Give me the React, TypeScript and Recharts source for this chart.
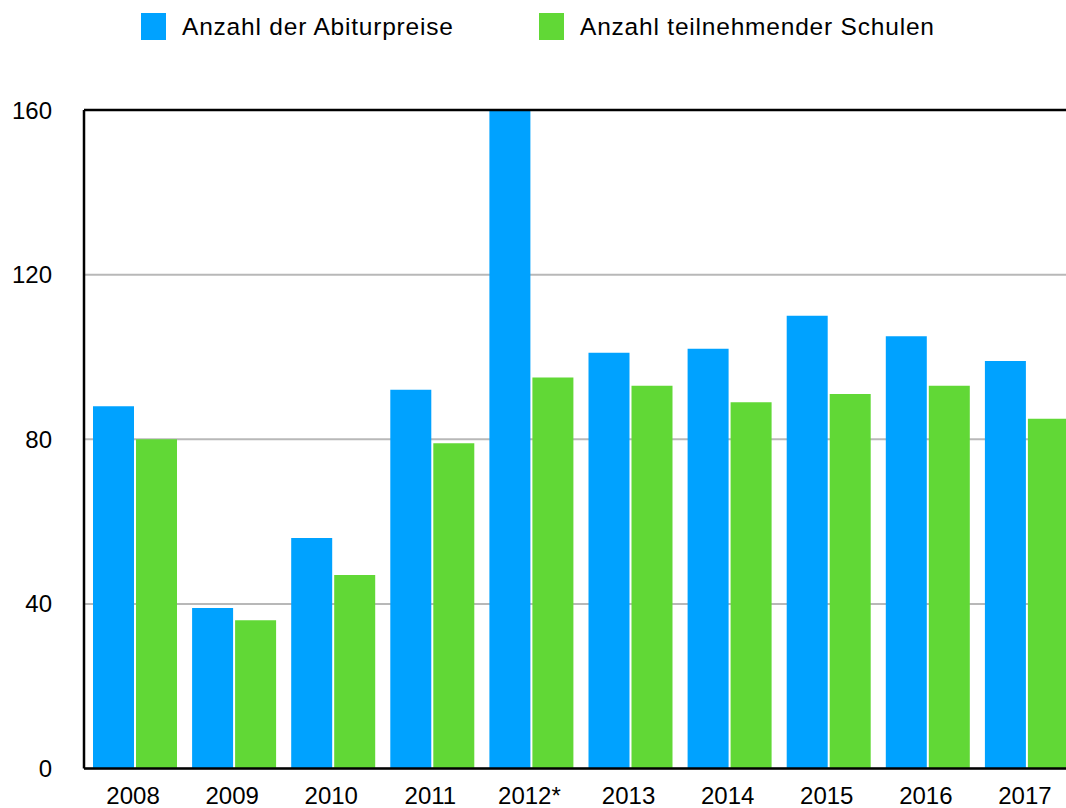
import React from 'react';
import { BarChart, Bar, XAxis, YAxis, CartesianGrid, Legend, ReferenceLine } from 'recharts';

const years = ['2008', '2009', '2010', '2011', '2012*', '2013', '2014', '2015', '2016', '2017'];
const abiturpreise = [88, 39, 56, 92, 160, 101, 102, 110, 105, 99];
const schulen = [80, 36, 47, 79, 95, 93, 89, 91, 93, 85];
const yTicks = [0, 40, 80, 120, 160];
const seriesNames = ['Anzahl der Abiturpreise', 'Anzahl teilnehmender Schulen'];
const colors = ['#00A2FF', '#61D836'];

const data = years.map((y, i) => ({ year: y, a: abiturpreise[i], s: schulen[i] }));

const FONT = '"Liberation Sans", Arial, Helvetica, sans-serif';
const legendX = [141, 539];

const renderLegend = (props: any) => {
  const payload = props.payload || [];
  return (
    <div style={{ position: 'relative', width: 1066, height: 60, fontFamily: FONT }}>
      {payload.map((p: any, i: number) => (
        <div key={i}>
          <div
            style={{
              position: 'absolute',
              left: legendX[i],
              top: 13,
              width: 25,
              height: 27,
              background: p.color,
            }}
          />
          <span
            style={{
              position: 'absolute',
              left: legendX[i] + 41,
              top: 15,
              fontSize: 24.5,
              lineHeight: '24px',
              letterSpacing: '0.8px',
              color: '#000',
              whiteSpace: 'nowrap',
            }}
          >
            {p.value}
          </span>
        </div>
      ))}
    </div>
  );
};

export default function App() {
  return (
    <div
      style={{
        position: 'fixed',
        left: 0,
        top: 0,
        width: 1066,
        height: 808,
        overflow: 'hidden',
        background: '#fff',
        fontFamily: FONT,
      }}
    >
      <BarChart
        width={1076}
        height={808}
        data={data}
        margin={{ top: 110, right: 0, bottom: 0, left: 0 }}
        barSize={41}
        barGap={2}
      >
        <CartesianGrid vertical={false} stroke="#b8b8b8" strokeWidth={2} />
        <XAxis
          dataKey="year"
          height={39.5}
          padding={{ left: 1, right: 0 }}
          tickLine={false}
          tickSize={0}
          tickMargin={18.5}
          axisLine={{ stroke: '#000', strokeWidth: 2.5 }}
          tick={{ fontSize: 24, fill: '#000', fontFamily: FONT, dx: -1.5 }}
          interval={0}
        />
        <YAxis
          width={84}
          domain={[0, 160]}
          ticks={yTicks}
          tickLine={false}
          tickSize={0}
          tickMargin={32}
          axisLine={{ stroke: '#000', strokeWidth: 2.5 }}
          tick={{ fontSize: 24, fill: '#000', fontFamily: FONT }}
          allowDataOverflow
        />
        <Legend
          layout="vertical"
          align="center"
          verticalAlign="middle"
          wrapperStyle={{ top: 0, left: 0, width: 1066, height: 60 }}
          content={renderLegend}
        />
        <Bar dataKey="a" name={seriesNames[0]} fill={colors[0]} isAnimationActive={false} />
        <Bar dataKey="s" name={seriesNames[1]} fill={colors[1]} isAnimationActive={false} />
        <ReferenceLine y={160} stroke="#000" strokeWidth={2.5} />
      </BarChart>
    </div>
  );
}
